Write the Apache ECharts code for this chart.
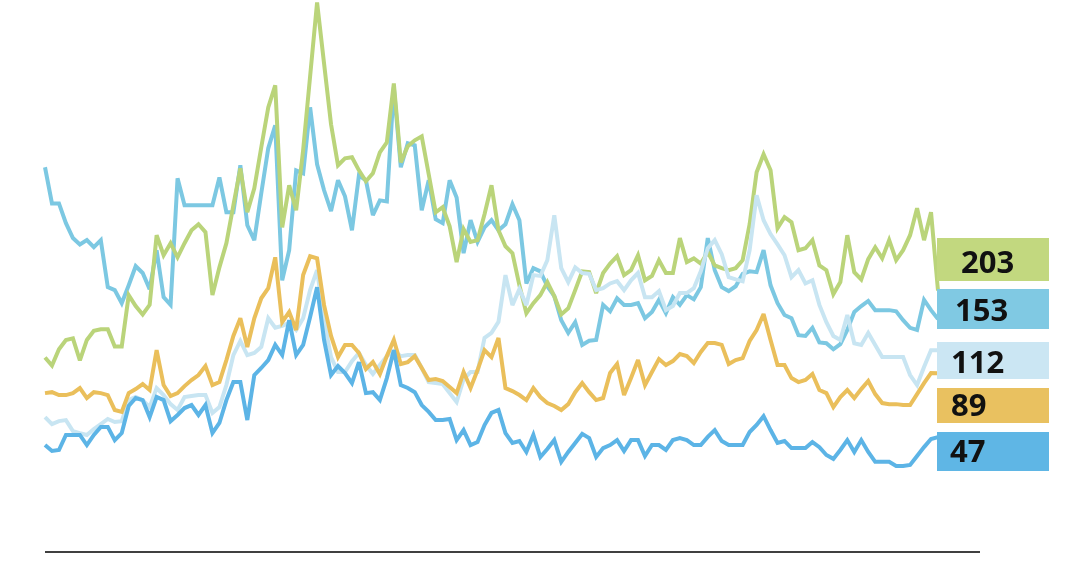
<!DOCTYPE html>
<html>
<head>
<meta charset="utf-8">
<script src="https://cdn.jsdelivr.net/npm/echarts@6/dist/echarts.min.js"></script>
<style>
html,body{margin:0;padding:0;background:#fff;}
#chart{width:1080px;height:567px;}
</style>
</head>
<body>
<div id="chart"></div>
<script>
// Series values (log scale), one point per period
const seriesGreen = [104,96,113,124,126,101,124,136,138,138,
116,116,194,174,160,176,353,289,326,283,
326,371,394,364,194,256,326,476,689,444,
564,850,1266,1576,382,581,453,824,1725,3610,
1964,1069,710,761,769,675,605,655,808,893,
1608,731,858,911,948,649,444,467,386,270,
375,330,336,435,581,371,316,295,214,162,
179,194,221,192,160,170,204,246,244,198,
242,266,286,237,249,289,225,235,275,242,
242,343,270,280,266,298,261,254,249,254,
275,394,662,792,675,379,423,402,304,310,
336,261,249,196,221,353,244,227,278,313,
280,336,275,304,353,462,336,444,203];

const seriesBlue = [696,485,485,398,343,322,336,313,336,210,
204,179,214,259,242,206,304,190,176,623,
476,476,476,476,476,629,444,444,710,390,
336,537,841,1058,225,304,675,655,1266,717,
553,449,611,521,371,642,611,431,500,495,
1545,696,884,866,453,611,414,398,611,515,
295,410,330,382,410,371,394,481,410,218,
254,246,212,192,151,133,148,118,123,124,
176,165,188,176,176,179,154,164,185,162,
190,176,194,186,210,343,249,210,202,212,
240,246,244,304,214,179,159,154,130,129,
140,121,120,113,119,137,164,174,183,167,
167,167,165,151,140,137,185,167,153];

const seriesLight = [57.4,53.5,55.1,55.7,49.9,48.9,48.0,50.9,53.5,56.3,
54.6,55.1,68.0,70.1,68.0,63.4,76.7,71.5,65.3,61.6,
70.1,70.8,71.5,71.5,59.8,63.4,79.0,106.6,122.8,106.6,
108.8,115.6,154,140,142.6,147,137,154,204,249,
151,104.5,90.0,90.0,100.4,108.8,96.5,88.2,96.5,105.5,
111,105.5,106.6,106.6,93.7,81.4,80.6,79.8,72.9,66.7,
83.9,90.0,90.0,126.5,133,148.6,237,175.5,206,175.5,
237,235,275,431,254,221,256,242,240,204,
208,218,223,204,225,242,190,190,202,167,
174,198,198,208,246,310,336,292,232,227,
223,304,526,410,357,322,289,232,249,218,
225,176,148,129,124,159,120,118,133,118,
104.5,104.5,104.5,104.5,87.3,79.0,94.6,112,112];

const seriesOrange = [72.9,73.6,71.5,71.5,72.9,76.7,69.4,73.6,72.9,71.5,
61.6,60.4,72.9,75.9,79.8,75.2,112,79.0,70.8,72.9,
78.2,83.1,87.3,95.5,79.0,81.4,101.4,129,154,115.6,
154,188,208,283,148,164,137,237,286,280,
175.5,129,104.5,118,118,108.8,92.8,99.4,88.2,105.5,
124,97.5,99.4,105.5,93.7,83.1,83.9,82.3,77.4,72.9,
90.0,76.7,91.8,112,104.5,126.5,76.7,74.4,71.5,68.0,
76.7,70.1,66.0,64.1,61.6,65.3,73.6,80.6,73.6,68.0,
69.4,89.1,97.5,71.5,84.7,101.4,79.0,90.0,102.4,96.5,
100.4,107.7,105.5,98.5,109.9,120.2,120.2,118,97.5,101.4,
103.4,122.8,137,160.6,124,96.5,96.5,84.7,81.4,83.1,
88.2,75.2,72.9,63.4,70.1,75.2,69.4,75.9,82.3,72.2,
66.0,65.3,65.3,64.7,64.7,72.2,80.6,89.1,89];

const seriesDark = [43.4,40.9,41.3,48.0,48.0,48.0,43.4,48.0,52.0,52.0,
45.6,48.9,64.1,69.4,68.0,57.4,70.1,68.0,55.1,58.6,
62.8,64.7,58.6,64.7,48.9,54.1,68.0,81.4,81.4,55.7,
87.3,93.7,101.4,118,106.6,151,106.6,118,156,210,
124,87.3,95.5,89.1,80.6,99.4,72.9,73.6,68.0,84.7,
112,79.0,76.7,73.6,64.7,60.4,55.7,55.7,56.3,45.6,
50.4,43.4,44.7,53.0,59.8,61.6,48.9,44.3,45.2,40.5,
48.0,38.5,41.7,45.6,36.7,40.5,44.3,48.5,46.5,38.5,
42.1,43.4,45.6,40.9,45.6,45.6,38.9,43.4,43.4,41.3,
45.6,46.5,45.6,43.4,43.4,47.1,50.4,45.2,43.4,43.4,
43.4,49.4,53.0,57.9,50.4,44.3,45.2,42.1,42.1,42.1,
44.7,42.5,39.3,37.8,41.3,45.6,40.5,45.6,40.5,36.7,
36.7,36.7,35.2,35.2,35.6,38.9,42.5,46.1,47];

// Period categories (index of each observation)
const categories = seriesGreen.map((_, i) => String(i + 1));

// Latest-value labels shown at the right
const endLabels = ['203', '153', '112', '89', '47'];

const colors = {
  green: '#bad47a',
  blue: '#7cc8e2',
  light: '#c8e5f2',
  orange: '#eabf5b',
  dark: '#5cb4e6'
};
const boxColors = ['#c2d87f', '#80c9e3', '#cbe6f3', '#e9c160', '#5fb6e5'];
const boxRects = [
  {y: 238, h: 43, tx: 961, ty: 264},
  {y: 289, h: 40, tx: 955, ty: 312},
  {y: 342, h: 37, tx: 951, ty: 364},
  {y: 388, h: 35, tx: 951, ty: 407},
  {y: 432, h: 39, tx: 950, ty: 453}
];

const graphics = [{
  type: 'line', z: 100,
  shape: {x1: 45, y1: 552, x2: 980, y2: 552},
  style: {stroke: '#000', lineWidth: 1.6}
}];
endLabels.forEach((t, i) => {
  const b = boxRects[i];
  graphics.push({type: 'rect', z: 100, shape: {x: 937, y: b.y, width: 112, height: b.h}, style: {fill: boxColors[i]}});
  graphics.push({type: 'text', z: 101, x: b.tx, y: b.ty,
    style: {text: t, fill: '#111', font: 'bold 31px "Open Sans", "DejaVu Sans", sans-serif', verticalAlign: 'middle', align: 'left'}});
});

function lineSeries(name, data, color) {
  return {
    name, type: 'line', data, symbol: 'none', clip: false,
    lineStyle: {color, width: 4, join: 'miter', miterLimit: 3},
    itemStyle: {color}
  };
}

const chart = echarts.init(document.getElementById('chart'), null, {renderer: 'canvas'});
chart.setOption({
  animation: false,
  backgroundColor: '#fff',
  grid: {left: 45, right: 142, top: 0, bottom: 85},
  xAxis: {
    type: 'category', data: categories, boundaryGap: false,
    show: false
  },
  yAxis: {
    type: 'log', min: 30, max: 3700, show: false
  },
  series: [
    lineSeries('Blue', seriesBlue, colors.blue),
    lineSeries('Green', seriesGreen, colors.green),
    lineSeries('Light', seriesLight, colors.light),
    lineSeries('Orange', seriesOrange, colors.orange),
    lineSeries('Dark', seriesDark, colors.dark)
  ],
  graphic: graphics
});
</script>
</body>
</html>
